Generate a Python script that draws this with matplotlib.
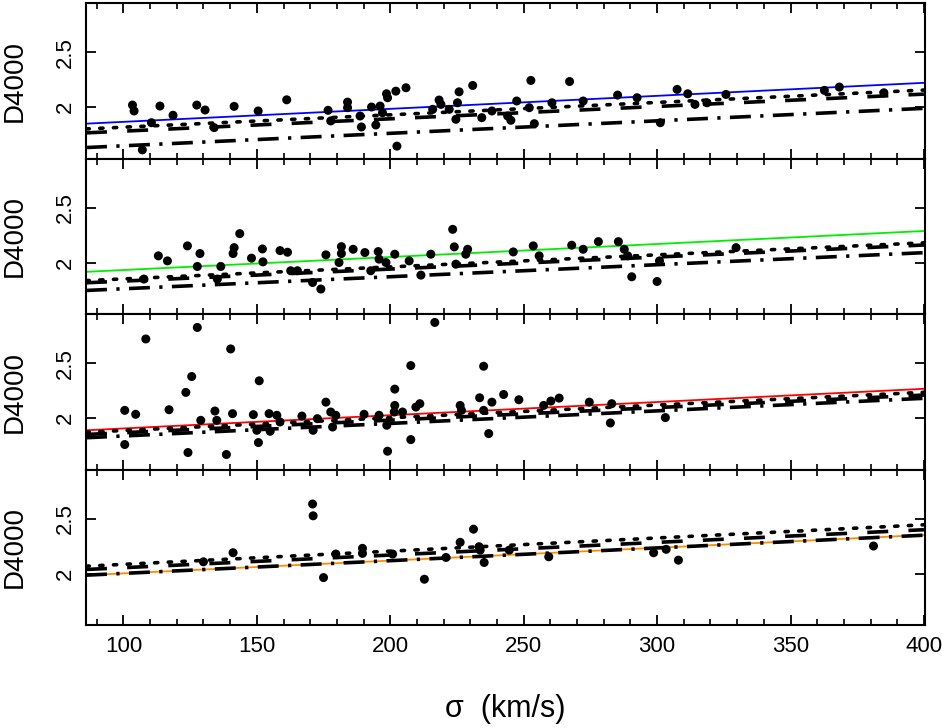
import matplotlib
matplotlib.use("Agg")
import matplotlib.pyplot as plt
import numpy as np
from matplotlib.ticker import MultipleLocator, FixedLocator

plt.rcParams['font.family'] = ['Liberation Sans', 'DejaVu Sans']

# ---------------- data ----------------
x_ends = [86, 400]

# panel 1 (blue)
p1_sigma = [103.4, 104.0, 113.7, 118.6, 127.5, 130.6, 141.5, 150.5, 161.2, 110.5, 107.1, 134.0,
            176.7, 184.0, 184.0, 177.7, 188.7, 189.2, 193.0, 196.2, 197.1, 194.6, 198.6, 199.0,
            202.1, 205.9, 202.5, 218.3, 219.0, 215.9, 222.1, 225.2, 225.8, 230.9, 224.6, 234.3,
            238.1, 244.0, 245.2, 247.4, 252.1, 252.7, 254.0, 260.6, 267.2, 272.3, 285.2, 292.5,
            307.5, 311.5, 314.2, 318.7, 325.8, 301.2, 362.7, 368.3, 385.0]
p1_d4000 = [2.018, 1.964, 2.009, 1.925, 2.018, 1.973, 2.006, 1.964, 2.066, 1.857, 1.609, 1.812,
            1.970, 2.045, 1.994, 1.873, 1.918, 1.818, 2.000, 2.009, 1.948, 1.836, 2.121, 2.085,
            2.145, 2.176, 1.643, 2.064, 2.024, 1.979, 1.979, 2.039, 2.139, 2.197, 1.888, 1.903,
            1.964, 1.918, 1.879, 2.055, 1.994, 2.243, 1.848, 2.039, 2.233, 2.055, 2.109, 2.085,
            2.161, 2.121, 2.024, 2.039, 2.115, 1.857, 2.152, 2.182, 2.130]

# panel 2 (green)
p2_sigma = [113.1, 116.5, 124.0, 128.7, 127.7, 136.5, 135.2, 141.5, 141.1, 143.6, 148.0, 152.1,
            152.3, 158.7, 161.5, 162.7, 165.2, 170.9, 174.0, 107.7,
            175.9, 181.7, 181.7, 180.8, 186.1, 190.5, 195.5, 195.8, 198.4, 201.7, 207.1, 192.7,
            211.5, 215.2, 223.4, 224.0, 229.0, 228.3, 224.6, 246.1, 253.6, 255.8, 268.0, 272.3,
            278.0, 285.5, 287.7, 290.5, 289.0, 300.0, 300.9, 329.6]
p2_d4000 = [2.061, 2.015, 2.152, 2.082, 1.964, 1.964, 1.849, 2.136, 2.082, 2.264, 2.040, 2.124,
            2.006, 2.109, 2.094, 1.925, 1.925, 1.818, 1.758, 1.849,
            2.070, 2.145, 2.082, 2.000, 2.121, 2.091, 2.100, 2.031, 2.000, 2.076, 2.015, 1.925,
            1.885, 2.076, 2.303, 2.143, 2.121, 2.076, 1.985, 2.097, 2.152, 2.061, 2.158, 2.121,
            2.191, 2.191, 2.121, 1.870, 2.061, 1.827, 2.015, 2.136]

# panel 3 (red)
p3_sigma = [108.4, 100.5, 104.6, 100.5, 117.1, 123.4, 125.6, 127.7, 129.0, 124.2, 134.3, 135.0,
            140.2, 140.9, 138.6, 148.7, 150.9, 150.6, 150.0, 154.6, 155.0, 157.5, 158.7, 166.9,
            171.1, 172.7,
            175.9, 177.7, 179.6, 178.4, 190.2, 195.8, 199.0, 198.7, 201.7, 201.7, 201.5, 204.6,
            207.7, 207.7, 209.6, 211.1, 216.7, 226.2, 226.7, 233.5, 235.0, 235.0, 236.9, 238.1,
            242.5, 248.2, 257.5, 260.2, 263.3, 274.6, 282.5, 283.0, 303.1]
p3_d4000 = [2.722, 2.070, 2.034, 1.758, 2.076, 2.234, 2.379, 2.827, 1.979, 1.685, 2.064, 1.979,
            2.631, 2.040, 1.667, 2.031, 2.340, 1.776, 1.888, 2.040, 1.879, 2.025, 1.964, 2.018,
            1.888, 1.994,
            2.145, 2.055, 2.025, 1.918, 2.034, 2.025, 1.697, 1.934, 2.264, 2.115, 2.055, 2.055,
            2.479, 1.803, 2.100, 2.131, 2.873, 2.115, 2.070, 2.185, 2.473, 2.070, 1.858, 2.145,
            2.215, 2.167, 2.115, 2.155, 2.182, 2.145, 1.955, 2.131, 2.004]

# panel 4 (orange)
p4_sigma = [170.9, 171.1, 141.1, 130.0, 175.0, 179.6, 189.6, 189.6, 200.9, 212.8, 220.9, 226.2,
            231.2, 233.3, 233.7, 235.2, 244.6, 259.4, 298.7, 303.4, 308.0, 381.1]
p4_d4000 = [2.635, 2.527, 2.190, 2.107, 1.963, 2.178, 2.230, 2.184, 2.178, 1.948, 2.147, 2.285,
            2.405, 2.245, 2.214, 2.101, 2.214, 2.153, 2.190, 2.221, 2.122, 2.251]

# fit lines: values at x_ends (colored, dotted, dashed, dash-dot)
fit_colors = ['#0000ff', '#00ee00', '#ff0000', '#ff8c00']
fit_lines = [[1.848, 2.221], [1.915, 2.288], [1.888, 2.267], [1.985, 2.352]]
dotted_lines = [[1.800, 2.155], [1.835, 2.180], [1.870, 2.235], [2.067, 2.445]]
dashed_lines = [[1.764, 2.118], [1.815, 2.160], [1.850, 2.210], [2.037, 2.400]]
dashdot_lines = [[1.630, 1.988], [1.745, 2.090], [1.820, 2.180], [1.985, 2.350]]

sigmas = [p1_sigma, p2_sigma, p3_sigma, p4_sigma]
d4000s = [p1_d4000, p2_d4000, p3_d4000, p4_d4000]

xticks_major = [100, 150, 200, 250, 300, 350, 400]
yticks = [2, 2.5]
ytick_labels = ['2', '2.5']

# ---------------- figure ----------------
W, H = 942, 728
fig = plt.figure(figsize=(W / 100, H / 100), dpi=100)

left_px, right_px = 85.5, 925.0
top_px, bot_px = 3.0, 625.0
ph = (bot_px - top_px) / 4

lw_black = 2.6
for i in range(4):
    y0 = bot_px - (4 - i) * ph  # top of panel i in px
    ax = fig.add_axes([left_px / W, 1 - (y0 + ph) / H, (right_px - left_px) / W, ph / H])
    ax.set_xlim(85.8, 400.4)
    ax.set_ylim(1.53, 2.95)

    ax.plot(x_ends, fit_lines[i], color=fit_colors[i], lw=1.3, zorder=2)
    ax.plot(x_ends, dotted_lines[i], color='black', lw=lw_black,
            linestyle=(0, (0.9, 2.9)), dash_capstyle='round', zorder=3)
    ax.plot(x_ends, dashed_lines[i], color='black', lw=lw_black,
            linestyle=(0, (5.8, 5.6)), zorder=3)
    ax.plot(x_ends, dashdot_lines[i], color='black', lw=lw_black,
            linestyle=(0, (5.8, 2.6, 0.9, 2.6)), zorder=3)
    ax.scatter(sigmas[i], d4000s[i], s=42, color='black', edgecolors='none', zorder=4)

    ax.xaxis.set_major_locator(FixedLocator(xticks_major))
    ax.xaxis.set_minor_locator(MultipleLocator(10))
    ax.yaxis.set_major_locator(FixedLocator(yticks))
    ax.tick_params(axis='both', which='major', direction='in', length=7, width=1.3,
                   top=True, right=True, labelsize=16)
    ax.tick_params(axis='both', which='minor', direction='in', length=4, width=1.2,
                   top=True, right=True)
    ax.tick_params(axis='y', which='minor', left=False, right=False)
    ax.set_yticklabels(ytick_labels, rotation=90, va='center')
    ax.tick_params(axis='y', pad=7)
    ax.tick_params(axis='x', pad=8)
    if i < 3:
        ax.tick_params(axis='x', labelbottom=False)
    for sp in ax.spines.values():
        sp.set_linewidth(1.5)

    fig.text(15 / W, 1 - (y0 + ph / 2) / H, 'D4000', rotation=90,
             ha='center', va='center', fontsize=20)

fig.text((left_px + right_px) / 2 / W, 1 - 709 / H, 'σ  (km/s)', ha='center', va='center',
         fontsize=22)

fig.savefig('out.png', dpi=100)
